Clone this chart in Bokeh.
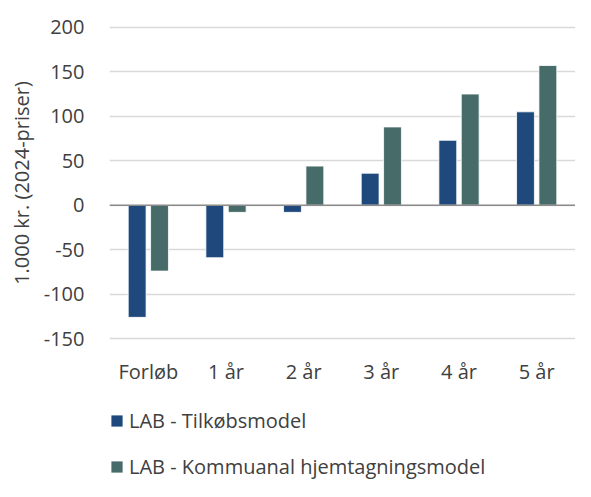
from bokeh.plotting import figure
from bokeh.layouts import column
from bokeh.models import (Range1d, FixedTicker, Span, Legend, LegendItem,
                          ColumnDataSource, CustomJSTickFormatter)
from bokeh.embed import file_html
from bokeh.resources import INLINE

categories = ["Forløb", "1 år", "2 år", "3 år", "4 år", "5 år"]
tilkob = [-126, -59, -8, 36, 73, 105]
kommunal = [-74, -8, 44, 88, 125, 157]
y_ticks = [-150, -100, -50, 0, 50, 100, 150, 200]
series_names = ["LAB - Tilkøbsmodel", "LAB - Kommuanal hjemtagningsmodel"]
y_title = "1.000 kr. (2024-priser)"
colors = ["#1F497D", "#466B69"]

FONT = "Open Sans"
FS = "20px"
TXT = "#404040"

n = len(categories)
centers = [i + 0.5 for i in range(n)]
OFF = 0.144
src = ColumnDataSource(dict(
    xa=[c - OFF for c in centers], xb=[c + OFF for c in centers],
    a=tilkob, b=kommunal))

# ---- main chart ----
p = figure(width=575, height=388,
           x_range=Range1d(0, n), y_range=Range1d(-152, 202),
           output_backend="svg", toolbar_location=None,
           min_border_left=109, min_border_right=0,
           min_border_top=25, min_border_bottom=48)

r1 = p.vbar(x="xa", top="a", bottom=0, width=0.23, source=src,
            fill_color=colors[0], line_color="white", line_width=0.8)
r2 = p.vbar(x="xb", top="b", bottom=0, width=0.23, source=src,
            fill_color=colors[1], line_color="white", line_width=0.8)

p.add_layout(Span(location=0, dimension="width", line_color="#8c8c8c",
                  line_width=1.5))

p.outline_line_color = None
p.xgrid.visible = False
p.ygrid.ticker = FixedTicker(ticks=y_ticks)
p.ygrid.grid_line_color = "#d9d9d9"
p.ygrid.grid_line_width = 1.5

p.xaxis.ticker = FixedTicker(ticks=centers)
p.xaxis.major_label_overrides = {c: lab for c, lab in zip(centers, categories)}
p.yaxis.ticker = FixedTicker(ticks=y_ticks)
p.yaxis.formatter = CustomJSTickFormatter(code="return tick.toString();")
for ax in (p.xaxis[0], p.yaxis[0]):
    ax.axis_line_color = None
    ax.major_tick_line_color = None
    ax.minor_tick_line_color = None
    ax.major_tick_out = 0
    ax.minor_tick_out = 0
    ax.major_label_text_font = FONT
    ax.major_label_text_font_size = FS
    ax.major_label_text_color = TXT
p.yaxis.major_label_standoff = 25
p.xaxis.major_label_standoff = 17

p.yaxis.axis_label = y_title
p.yaxis.axis_label_text_font = FONT
p.yaxis.axis_label_text_font_size = FS
p.yaxis.axis_label_text_font_style = "normal"
p.yaxis.axis_label_text_color = TXT
p.yaxis.axis_label_standoff = 6

# ---- legend strip ----
q = figure(width=575, height=93,
           x_range=Range1d(0, n), y_range=Range1d(1000, 1001),
           x_axis_type=None, y_axis_type=None,
           output_backend="svg", toolbar_location=None,
           min_border_left=0, min_border_right=0,
           min_border_top=0, min_border_bottom=0)
q.outline_line_color = None
q1 = q.vbar(x="xa", top="a", bottom=0, width=0.23, source=src,
            fill_color=colors[0], line_color="white", line_width=0.8)
q2 = q.vbar(x="xb", top="b", bottom=0, width=0.23, source=src,
            fill_color=colors[1], line_color="white", line_width=0.8)

legend = Legend(items=[LegendItem(label=series_names[0], renderers=[q1]),
                       LegendItem(label=series_names[1], renderers=[q2])],
                location=(0, 1), orientation="vertical",
                glyph_width=15, glyph_height=15, label_height=27,
                spacing=19, padding=0, margin=0, label_standoff=5,
                border_line_color=None, background_fill_alpha=0,
                label_text_font=FONT, label_text_font_size=FS,
                label_text_color=TXT)
q.add_layout(legend)

layout = column(p, q, spacing=0)

open("out.html", "w").write(file_html(layout, INLINE))
